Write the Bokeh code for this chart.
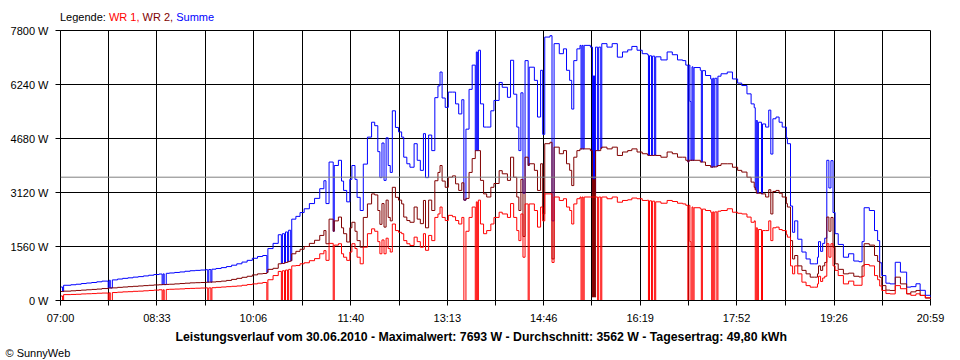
from bokeh.plotting import figure
from bokeh.models import Range1d, FixedTicker, Span, Title, Div
from bokeh.layouts import column
from bokeh.embed import file_html
from bokeh.resources import INLINE

# minutes after 07:00
minutes = [
    0, 2, 3, 10, 15, 20, 25, 30, 35, 40,
    46, 47, 48, 50, 55, 60, 65, 70, 75, 80,
    85, 90, 95, 98, 99, 100, 102, 105, 110, 115,
    120, 125, 130, 135, 140, 142, 143, 145, 146, 150,
    155, 160, 165, 170, 175, 180, 185, 190, 195, 199,
    200, 205, 210, 213, 214, 216, 217, 219, 220, 222,
    223, 227, 231, 235, 240, 245, 250, 254, 256, 259,
    263, 264, 268, 271, 273, 276, 279, 281, 284, 286,
    289, 292, 296, 300, 303, 306, 308, 310, 312, 314,
    316, 318, 320, 323, 326, 329, 331, 334, 337, 341,
    344, 347, 350, 352, 355, 358, 361, 364, 366, 368,
    371, 374, 378, 381, 384, 387, 389, 391, 394, 397,
    400, 401, 402, 403, 405, 408, 411, 415, 418, 423,
    426, 431, 434, 437, 440, 442, 444, 446, 448, 451,
    452, 457, 460, 463, 465, 467, 472, 474, 476, 481,
    485, 488, 491, 493, 495, 498, 501, 502, 503, 504,
    505, 511, 513, 514, 515, 516, 518, 519, 521, 522,
    527, 532, 537, 542, 547, 551, 556, 561, 566, 567,
    568, 570, 571, 573, 574, 579, 585, 590, 595, 600,
    603, 605, 606, 607, 608, 609, 610, 611, 617, 618,
    619, 622, 627, 628, 629, 630, 631, 633, 634, 637,
    643, 648, 653, 657, 662, 666, 669, 670, 671, 672,
    673, 676, 677, 680, 683, 685, 687, 690, 693, 696,
    700, 701, 704, 706, 708, 711, 715, 719, 723, 727,
    730, 731, 733, 735, 737, 739, 741, 743, 745, 747,
    750, 755, 760, 765, 770, 773, 775, 780, 785, 788,
    790, 792, 796, 800, 805, 810, 816, 820, 825, 829,
    834, 839,
]

wr1 = [
    130, 0, 170, 175, 180, 190, 195, 200, 210, 215,
    0, 225, 0, 230, 240, 250, 255, 265, 270, 280,
    290, 300, 310, 0, 310, 0, 320, 325, 330, 335,
    345, 350, 355, 360, 365, 0, 365, 0, 370, 380,
    390, 400, 410, 420, 440, 460, 480, 500, 520, 0,
    600, 720, 840, 0, 860, 0, 880, 0, 900, 0,
    1000, 1010, 1060, 1090, 1150, 1210, 1350, 1440, 1160, 1650,
    0, 1600, 1640, 1350, 1250, 1160, 1400, 1640, 1500, 1250,
    1060, 1540, 1930, 2070, 2000, 1700, 1350, 1750, 1350, 1800,
    1500, 1400, 2210, 2020, 1970, 1930, 1730, 1640, 1590, 1830,
    1700, 1540, 1930, 1450, 1880, 1730, 2400, 2500, 2700, 2400,
    2310, 2460, 2420, 2310, 2210, 2400, 0, 2000, 2400, 2700,
    0, 2850, 0, 2900, 2210, 1930, 2020, 2210, 2400, 2550,
    2500, 2400, 2800, 2400, 2020, 1730, 2500, 1250, 2790, 0,
    2790, 2600, 2120, 2700, 2300, 3080, 3080, 1100, 2990, 2890,
    2940, 2700, 2600, 2210, 2790, 2940, 2990, 0, 2990, 0,
    2990, 2990, 2990, 2990, 2990, 2990, 0, 2990, 0, 2990,
    2940, 2990, 2840, 2890, 2910, 2960, 2940, 2890, 2900, 0,
    2880, 0, 2870, 0, 2850, 2810, 2890, 2860, 2810, 2790,
    2750, 0, 2750, 1700, 0, 2700, 0, 2680, 2650, 0,
    2640, 2600, 2550, 0, 2560, 0, 2560, 0, 2580, 2600,
    2650, 2550, 2520, 2500, 2410, 2260, 2300, 0, 2100, 0,
    2050, 0, 2020, 2020, 2300, 1730, 2100, 2120, 2050, 2020,
    1900, 1830, 1000, 770, 1000, 770, 530, 430, 385, 385,
    480, 700, 550, 650, 700, 1640, 1250, 1640, 1000, 870,
    720, 480, 560, 440, 440, 700, 1040, 1000, 720, 600,
    420, 290, 200, 190, 430, 340, 193, 150, 193, 144,
    80, 50,
]

wr2 = [
    260, 260, 270, 280, 290, 300, 310, 320, 330, 345,
    360, 360, 362, 365, 380, 390, 400, 410, 420, 430,
    440, 450, 455, 460, 460, 460, 465, 470, 480, 490,
    500, 510, 515, 520, 525, 530, 530, 530, 535, 545,
    560, 580, 610, 640, 670, 700, 740, 770, 780, 810,
    900, 930, 1060, 1070, 1070, 1090, 1100, 1120, 1130, 1150,
    1350, 1420, 1480, 1560, 1650, 1740, 1880, 2020, 1640, 2350,
    2000, 2300, 2410, 2100, 1930, 1690, 2100, 2260, 2000, 1730,
    1540, 2400, 2790, 3080, 3050, 2600, 2200, 2800, 2120, 2900,
    2400, 2300, 3270, 2980, 2900, 2790, 2410, 2310, 2260, 2700,
    2350, 2220, 2890, 2100, 2900, 2600, 3460, 3700, 3900, 3450,
    3270, 3560, 3600, 3370, 3180, 3400, 2900, 2950, 3700, 4100,
    4330, 4330, 4330, 4330, 3470, 3080, 2990, 3270, 3380, 3750,
    3660, 3470, 4140, 3560, 2990, 2600, 3500, 1850, 4140, 3900,
    3950, 3760, 3180, 3950, 2500, 4530, 4570, 1200, 4430, 4240,
    4330, 3950, 3760, 3320, 4140, 4330, 4380, 4380, 4380, 4380,
    4380, 4330, 100, 3500, 100, 4330, 4330, 4330, 4400, 4430,
    4380, 4430, 4190, 4290, 4330, 4380, 4290, 4240, 4200, 4190,
    4190, 4190, 4190, 4200, 4190, 4140, 4290, 4240, 4140, 4140,
    4050, 4000, 4050, 4050, 4050, 4050, 4050, 4050, 4000, 4000,
    4000, 3900, 3850, 3850, 3860, 3860, 3860, 3880, 3900, 3950,
    3950, 3850, 3760, 3710, 3560, 3420, 3270, 3200, 3100, 3100,
    3100, 3080, 3080, 2990, 3200, 2500, 3150, 3180, 3100, 2990,
    2800, 2700, 1730, 1200, 1300, 1000, 870, 770, 674, 674,
    770, 1000, 870, 1000, 1100, 2410, 2000, 2400, 1540, 1060,
    900, 770, 790, 700, 680, 1000, 1640, 1600, 1300, 1130,
    670, 430, 300, 290, 674, 480, 193, 250, 290, 150,
    70, 48,
]

assert len(minutes) == len(wr1) == len(wr2), (len(minutes), len(wr1), len(wr2))
summe = [a + b for a, b in zip(wr1, wr2)]

x_tick_labels = ["07:00", "08:33", "10:06", "11:40", "13:13",
                 "14:46", "16:19", "17:52", "19:26", "20:59"]
y_ticks = [0, 1560, 3120, 4680, 6240, 7800]
average_w = 3562
legend_names = ["WR 1", "WR 2", "Summe"]
legend_colors = ["#FF0000", "#800000", "#0000FF"]
title_text = ("Leistungsverlauf vom 30.06.2010 - Maximalwert: 7693 W - "
              "Durchschnitt: 3562 W - Tagesertrag: 49,80 kWh")


def to_min(s):
    h, m = s.split(":")
    return (int(h) - 7) * 60 + int(m)


xt = [to_min(s) for s in x_tick_labels]
minor = [(a + b) / 2 for a, b in zip(xt[:-1], xt[1:])]

FONT = "Liberation Sans"

# legend line above the chart (multi-coloured text)
parts = []
for i, (name, col) in enumerate(zip(legend_names, legend_colors)):
    sep = "," if i < len(legend_names) - 1 else ""
    parts.append(f'<span style="color:{col}">{name}{sep}</span>')
legend_html = (
    '<div style="position:relative;left:60px;top:9px;white-space:nowrap;'
    f'font-family:\'{FONT}\';font-size:11px;line-height:13px;color:black">'
    "Legende: " + " ".join(parts) + "</div>"
)
legend_div = Div(text=legend_html, width=960, height=22, margin=(0, 0, 0, 0))

p = figure(width=960, height=338, output_backend="svg", toolbar_location=None,
           x_range=Range1d(xt[0], xt[-1]), y_range=Range1d(y_ticks[0], y_ticks[-1]),
           min_border_left=60, min_border_right=30, min_border_top=8,
           min_border_bottom=60, margin=(0, 0, 0, 0))
p.background_fill_color = "white"
p.border_fill_color = "white"
p.outline_line_color = "black"
p.outline_line_width = 1

p.xaxis.ticker = FixedTicker(ticks=xt, minor_ticks=minor)
p.xaxis.major_label_overrides = {t: lab for t, lab in zip(xt, x_tick_labels)}
p.yaxis.ticker = FixedTicker(ticks=y_ticks)
p.yaxis.major_label_overrides = {v: f"{v} W" for v in y_ticks}

for ax in (p.xaxis[0], p.yaxis[0]):
    ax.axis_line_color = "black"
    ax.major_tick_line_color = "black"
    ax.major_tick_in = 0
    ax.major_tick_out = 5
    ax.major_label_text_font = FONT
    ax.major_label_text_font_size = "11px"
    ax.major_label_text_color = "black"
p.xaxis.minor_tick_line_color = "black"
p.xaxis.minor_tick_in = 0
p.xaxis.minor_tick_out = 5
p.xaxis.major_label_standoff = 6
p.yaxis.minor_tick_line_color = None
p.yaxis.major_label_standoff = 7

p.xgrid.grid_line_color = "black"
p.xgrid.minor_grid_line_color = "black"
p.ygrid.grid_line_color = "black"

p.step(minutes, summe, mode="after", line_color=legend_colors[2], line_width=1)
p.step(minutes, wr2, mode="after", line_color=legend_colors[1], line_width=1)
p.step(minutes, wr1, mode="after", line_color=legend_colors[0], line_width=1)

p.add_layout(Span(location=average_w, dimension="width", line_color="#808080",
                  line_width=1))

p.add_layout(Title(text=title_text, align="left", offset=115,
                   text_font=FONT, text_font_size="12.3px",
                   text_font_style="bold", text_color="black", standoff=2),
             "below")
p.add_layout(Title(text="\u00a9 SunnyWeb", align="left", offset=-55,
                   text_font=FONT, text_font_size="11px",
                   text_font_style="normal", text_color="black", standoff=0),
             "below")

layout = column(legend_div, p, spacing=0)
open("out.html", "w").write(file_html(layout, INLINE))
